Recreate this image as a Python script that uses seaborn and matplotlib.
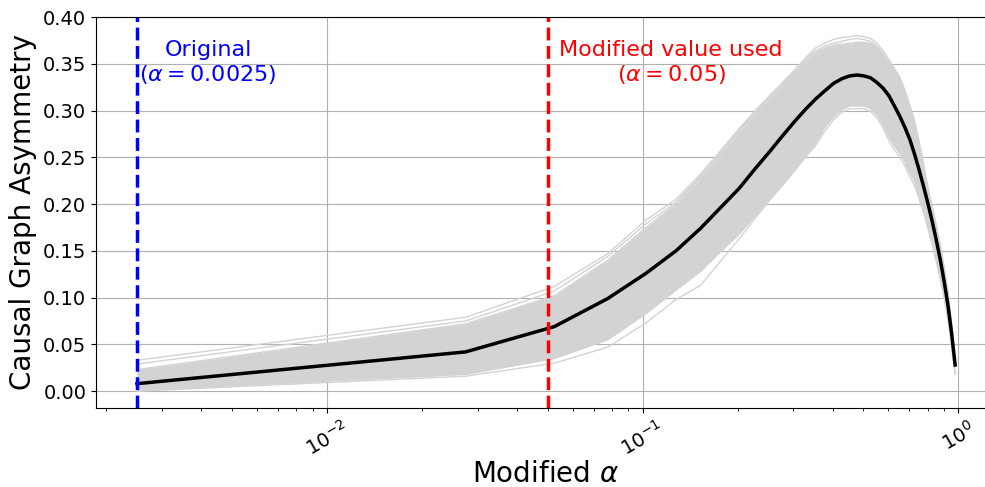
import numpy as np
import pandas as pd
import seaborn as sns
import matplotlib
matplotlib.use('Agg')
import matplotlib.pyplot as plt

# alpha values tested
alphas = [0.0025, 0.0275, 0.0525, 0.0775, 0.1025, 0.1275, 0.1525, 0.1775, 0.2025, 0.2275,
          0.2525, 0.2775, 0.3025, 0.3275, 0.3525, 0.3775, 0.4025, 0.4275, 0.4525, 0.4775,
          0.5025, 0.5275, 0.5525, 0.5775, 0.6025, 0.6275, 0.6525, 0.6775, 0.7025, 0.7275,
          0.7525, 0.7775, 0.8025, 0.8275, 0.8525, 0.8775, 0.9025, 0.9275, 0.9525, 0.9775]

# mean asymmetry over all runs
mean_asym = [0.008, 0.042, 0.069, 0.099, 0.126, 0.150, 0.174, 0.197, 0.217, 0.238,
             0.256, 0.273, 0.288, 0.301, 0.312, 0.321, 0.329, 0.334, 0.337, 0.338,
             0.337, 0.335, 0.330, 0.324, 0.316, 0.305, 0.294, 0.282, 0.269, 0.253,
             0.236, 0.218, 0.200, 0.181, 0.161, 0.140, 0.117, 0.092, 0.062, 0.028]

# spread of the individual runs
band_upper = [0.023, 0.072, 0.102, 0.140, 0.175, 0.200, 0.228, 0.254, 0.277, 0.297,
              0.313, 0.327, 0.340, 0.352, 0.362, 0.367, 0.370, 0.371, 0.372, 0.373,
              0.373, 0.372, 0.368, 0.360, 0.351, 0.342, 0.333, 0.318, 0.302, 0.285,
              0.262, 0.238, 0.214, 0.195, 0.175, 0.154, 0.130, 0.104, 0.070, 0.032]
band_lower = [0.001, 0.018, 0.035, 0.055, 0.083, 0.108, 0.128, 0.150, 0.168, 0.188,
              0.206, 0.222, 0.237, 0.252, 0.265, 0.282, 0.293, 0.301, 0.305, 0.305,
              0.305, 0.302, 0.295, 0.285, 0.272, 0.262, 0.254, 0.245, 0.233, 0.224,
              0.209, 0.194, 0.177, 0.160, 0.142, 0.122, 0.102, 0.080, 0.050, 0.019]

# a few runs that stand out from the band
run_high = [0.033, 0.079, 0.112, 0.147, 0.183, 0.205, 0.232, 0.258, 0.281, 0.300,
            0.316, 0.330, 0.343, 0.356, 0.367, 0.372, 0.376, 0.378, 0.379, 0.380,
            0.379, 0.377, 0.372, 0.364, 0.355, 0.345, 0.336, 0.322, 0.306, 0.289,
            0.266, 0.242, 0.217, 0.197, 0.177, 0.156, 0.132, 0.106, 0.072, 0.033]
run_high2 = [0.029, 0.075, 0.107, 0.144, 0.179, 0.202, 0.230, 0.256, 0.279, 0.298,
             0.314, 0.328, 0.341, 0.354, 0.364, 0.369, 0.372, 0.374, 0.376, 0.377,
             0.376, 0.374, 0.369, 0.361, 0.352, 0.343, 0.334, 0.319, 0.303, 0.286,
             0.263, 0.239, 0.215, 0.196, 0.176, 0.155, 0.131, 0.105, 0.071, 0.032]
run_low = [0.000, 0.016, 0.030, 0.047, 0.073, 0.098, 0.113, 0.140, 0.163, 0.185,
           0.204, 0.220, 0.235, 0.250, 0.262, 0.278, 0.290, 0.298, 0.302, 0.302,
           0.302, 0.299, 0.292, 0.282, 0.268, 0.258, 0.250, 0.241, 0.229, 0.220,
           0.205, 0.190, 0.173, 0.156, 0.138, 0.119, 0.099, 0.077, 0.048, 0.018]

original_alpha = 0.0025
modified_alpha = 0.05

runs = pd.DataFrame({
    'alpha': alphas * 5,
    'asym': band_upper + band_lower + run_high + run_high2 + run_low,
    'run': np.repeat(['upper', 'lower', 'high', 'high2', 'low'], len(alphas)),
})
mean_df = pd.DataFrame({'alpha': alphas, 'asym': mean_asym})

fig = plt.figure(figsize=(9.85, 4.87), dpi=100)
ax = fig.add_axes([96 / 985, 79 / 487, 900 / 985, 391 / 487])

ax.fill_between(alphas, band_lower, band_upper, color='lightgray', lw=0)
sns.lineplot(data=runs, x='alpha', y='asym', units='run', estimator=None,
             color='lightgray', lw=1, ax=ax, legend=False)
sns.lineplot(data=mean_df, x='alpha', y='asym', color='black', lw=2.5, ax=ax)

ax.axvline(original_alpha, color='blue', ls='--', lw=2.5)
ax.axvline(modified_alpha, color='red', ls='--', lw=2.5)
ax.text(0.0042, 0.351, 'Original\n' + r'($\alpha = 0.0025$)', color='blue',
        fontsize=16, ha='center', va='center', multialignment='center')
ax.text(0.123, 0.351, 'Modified value used\n' + r'($\alpha = 0.05$)', color='red',
        fontsize=16, ha='center', va='center', multialignment='center')

ax.set_xscale('log')
ax.set_xlim(0.001854, 1.317)
ax.set_ylim(-0.018, 0.40)
ax.grid(True, color='#b0b0b0', lw=0.8)
ax.set_axisbelow(True)
ax.tick_params(axis='y', labelsize=14)
ax.tick_params(axis='x', labelsize=14, labelrotation=30)
ax.set_xlabel(r'Modified $\alpha$', fontsize=20, labelpad=0)
ax.set_ylabel('Causal Graph Asymmetry', fontsize=20)

fig.savefig('out.png', dpi=100)
